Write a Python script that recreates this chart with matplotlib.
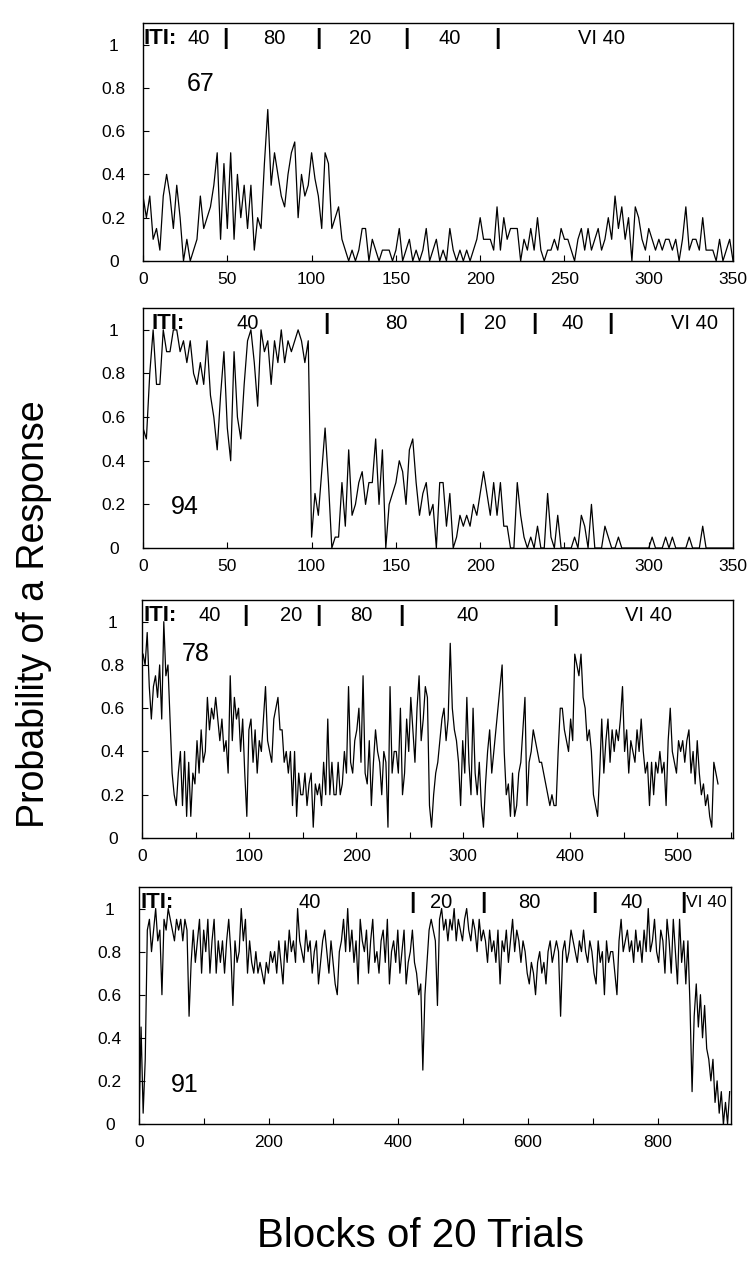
import numpy as np
import matplotlib
matplotlib.use("Agg")
import matplotlib.pyplot as plt
from matplotlib.ticker import MultipleLocator

plt.rcParams['font.family'] = ['Liberation Sans', 'DejaVu Sans']

# ---------------------------
# DATA (probability of a response per block)
# ---------------------------

# rat 67, one value every 2 blocks, blocks 0..350
p67 = [0.30, 0.20, 0.30, 0.10, 0.15, 0.05, 0.30, 0.40, 0.30, 0.15, 0.35, 0.20,
       0.00, 0.10, 0.00, 0.05, 0.10, 0.30, 0.15, 0.20, 0.25, 0.35, 0.50, 0.10,
       0.45, 0.15, 0.50, 0.10, 0.40, 0.20, 0.35, 0.15, 0.35, 0.05, 0.20, 0.15,
       0.45, 0.70, 0.35, 0.50, 0.40, 0.30, 0.25, 0.40, 0.50, 0.55, 0.20, 0.40,
       0.30, 0.35, 0.50, 0.38, 0.30, 0.15, 0.50, 0.45, 0.15, 0.20, 0.25, 0.10,
       0.05, 0.00, 0.05, 0.00, 0.05, 0.15, 0.15, 0.00, 0.10, 0.05, 0.00, 0.05,
       0.05, 0.05, 0.00, 0.05, 0.15, 0.00, 0.05, 0.10, 0.00, 0.05, 0.00, 0.05,
       0.15, 0.00, 0.05, 0.10, 0.00, 0.05, 0.00, 0.15, 0.05, 0.00, 0.05, 0.00,
       0.05, 0.00, 0.05, 0.10, 0.20, 0.10, 0.10, 0.10, 0.05, 0.25, 0.05, 0.20,
       0.10, 0.15, 0.15, 0.15, 0.00, 0.10, 0.05, 0.15, 0.05, 0.20, 0.05, 0.00,
       0.05, 0.05, 0.10, 0.05, 0.15, 0.10, 0.10, 0.05, 0.00, 0.10, 0.15, 0.05,
       0.15, 0.05, 0.10, 0.15, 0.05, 0.10, 0.20, 0.10, 0.30, 0.15, 0.25, 0.10,
       0.20, 0.00, 0.25, 0.20, 0.10, 0.05, 0.15, 0.10, 0.05, 0.10, 0.05, 0.10,
       0.10, 0.05, 0.10, 0.00, 0.10, 0.25, 0.05, 0.10, 0.10, 0.05, 0.20, 0.05,
       0.05, 0.05, 0.00, 0.10, 0.00, 0.05, 0.10, 0.00]

# rat 94, one value every 2 blocks, blocks 0..350
p94 = [0.55, 0.50, 0.80, 1.00, 0.75, 0.75, 1.00, 0.90, 0.90, 1.00, 1.00, 0.90,
       0.95, 0.85, 0.95, 0.80, 0.75, 0.85, 0.75, 0.95, 0.70, 0.60, 0.45, 0.70,
       0.90, 0.55, 0.40, 0.90, 0.60, 0.50, 0.75, 0.95, 1.00, 0.85, 0.65, 1.00,
       0.90, 0.95, 0.75, 0.95, 0.85, 1.00, 0.85, 0.95, 0.90, 0.95, 1.00, 0.95,
       0.85, 0.95, 0.05, 0.25, 0.15, 0.35, 0.55, 0.30, 0.00, 0.05, 0.05, 0.30,
       0.10, 0.45, 0.15, 0.20, 0.30, 0.35, 0.20, 0.30, 0.30, 0.50, 0.20, 0.45,
       0.00, 0.20, 0.25, 0.30, 0.40, 0.35, 0.20, 0.45, 0.50, 0.30, 0.15, 0.25,
       0.30, 0.15, 0.20, 0.00, 0.30, 0.30, 0.10, 0.25, 0.00, 0.05, 0.15, 0.10,
       0.15, 0.10, 0.20, 0.15, 0.25, 0.35, 0.25, 0.15, 0.30, 0.15, 0.30, 0.10,
       0.10, 0.00, 0.00, 0.30, 0.15, 0.05, 0.00, 0.05, 0.00, 0.10, 0.00, 0.00,
       0.25, 0.05, 0.00, 0.15, 0.00, 0.00, 0.00, 0.00, 0.05, 0.00, 0.15, 0.10,
       0.00, 0.20, 0.00, 0.00, 0.00, 0.10, 0.05, 0.00, 0.00, 0.05, 0.00, 0.00,
       0.00, 0.00, 0.00, 0.00, 0.00, 0.00, 0.00, 0.05, 0.00, 0.00, 0.00, 0.05,
       0.00, 0.05, 0.00, 0.00, 0.00, 0.00, 0.05, 0.00, 0.00, 0.00, 0.10, 0.00,
       0.00, 0.00, 0.00, 0.00, 0.00, 0.00, 0.00, 0.00]

# rat 78, roughly every 2 blocks, blocks 1..538
p78 = [0.85, 0.80, 0.95, 0.70, 0.55, 0.70, 0.75, 0.65, 0.80, 0.55, 1.00, 0.75,
       0.80, 0.55, 0.30, 0.20, 0.15, 0.30, 0.40, 0.15, 0.40, 0.10, 0.35, 0.10,
       0.30, 0.25, 0.45, 0.30, 0.50, 0.35, 0.40, 0.65, 0.50, 0.60, 0.55, 0.65,
       0.55, 0.45, 0.55, 0.40, 0.45, 0.30, 0.75, 0.45, 0.65, 0.55, 0.60, 0.40,
       0.55, 0.30, 0.10, 0.50, 0.55, 0.35, 0.50, 0.30, 0.45, 0.40, 0.55, 0.70,
       0.45, 0.40, 0.35, 0.55, 0.60, 0.65, 0.50, 0.50, 0.35, 0.40, 0.30, 0.40,
       0.15, 0.40, 0.10, 0.30, 0.20, 0.20, 0.30, 0.15, 0.25, 0.30, 0.05, 0.25,
       0.20, 0.25, 0.15, 0.35, 0.20, 0.55, 0.20, 0.35, 0.20, 0.20, 0.35, 0.20,
       0.25, 0.40, 0.30, 0.70, 0.35, 0.30, 0.45, 0.50, 0.60, 0.35, 0.75, 0.30,
       0.25, 0.45, 0.15, 0.35, 0.50, 0.40, 0.35, 0.20, 0.40, 0.35, 0.05, 0.70,
       0.30, 0.40, 0.40, 0.30, 0.60, 0.20, 0.30, 0.55, 0.40, 0.65, 0.50, 0.35,
       0.60, 0.75, 0.45, 0.55, 0.70, 0.65, 0.15, 0.05, 0.20, 0.30, 0.35, 0.45,
       0.55, 0.60, 0.45, 0.55, 0.90, 0.60, 0.50, 0.45, 0.35, 0.15, 0.45, 0.30,
       0.65, 0.35, 0.20, 0.60, 0.30, 0.20, 0.35, 0.15, 0.05, 0.25, 0.40, 0.50,
       0.30, 0.40, 0.50, 0.60, 0.70, 0.80, 0.40, 0.20, 0.25, 0.10, 0.30, 0.10,
       0.15, 0.30, 0.35, 0.50, 0.65, 0.15, 0.35, 0.40, 0.50, 0.45, 0.40, 0.35,
       0.35, 0.30, 0.25, 0.20, 0.15, 0.20, 0.15, 0.15, 0.40, 0.60, 0.60, 0.50,
       0.45, 0.40, 0.55, 0.45, 0.85, 0.80, 0.75, 0.85, 0.65, 0.60, 0.45, 0.50,
       0.40, 0.20, 0.15, 0.10, 0.30, 0.55, 0.30, 0.45, 0.55, 0.35, 0.50, 0.40,
       0.50, 0.45, 0.55, 0.70, 0.40, 0.50, 0.30, 0.45, 0.40, 0.35, 0.50, 0.40,
       0.55, 0.40, 0.30, 0.35, 0.15, 0.35, 0.20, 0.35, 0.30, 0.40, 0.30, 0.35,
       0.15, 0.45, 0.60, 0.40, 0.35, 0.30, 0.45, 0.40, 0.45, 0.35, 0.45, 0.50,
       0.30, 0.40, 0.25, 0.45, 0.30, 0.20, 0.25, 0.15, 0.20, 0.10, 0.05, 0.35,
       0.30, 0.25]

# rat 91, roughly every 3 blocks, blocks 0..911
p91 = [0.00, 0.45, 0.05, 0.30, 0.90, 0.95, 0.80, 0.90, 1.00, 0.85, 0.90, 0.60,
       0.95, 0.90, 1.00, 0.95, 0.90, 0.85, 0.95, 0.90, 0.95, 0.85, 0.95, 0.90,
       0.50, 0.75, 0.90, 0.75, 0.85, 0.95, 0.70, 0.90, 0.80, 0.95, 0.70, 0.85,
       0.95, 0.70, 0.85, 0.75, 0.85, 0.70, 0.85, 0.95, 0.80, 0.55, 0.85, 0.75,
       0.80, 1.00, 0.85, 0.95, 0.70, 0.85, 0.75, 0.70, 0.80, 0.70, 0.75, 0.70,
       0.65, 0.75, 0.70, 0.80, 0.75, 0.80, 0.70, 0.85, 0.75, 0.65, 0.85, 0.75,
       0.90, 0.80, 0.85, 0.75, 1.00, 0.85, 0.80, 0.75, 0.90, 0.80, 0.85, 0.70,
       0.80, 0.85, 0.65, 0.75, 0.85, 0.90, 0.80, 0.70, 0.85, 0.75, 0.65, 0.60,
       0.80, 0.85, 0.95, 0.80, 1.00, 0.80, 0.90, 0.75, 0.85, 0.65, 0.95, 0.85,
       0.80, 0.90, 0.70, 0.85, 0.95, 0.75, 0.80, 0.70, 0.85, 0.90, 0.75, 0.95,
       0.65, 0.80, 0.85, 0.75, 0.90, 0.70, 0.80, 0.90, 0.65, 0.75, 0.80, 0.90,
       0.75, 0.70, 0.60, 0.65, 0.25, 0.60, 0.75, 0.90, 0.95, 0.90, 0.85, 0.55,
       0.95, 1.00, 0.90, 0.95, 0.85, 0.95, 0.90, 1.00, 0.85, 0.95, 0.90, 0.85,
       0.95, 1.00, 0.90, 0.85, 0.95, 0.90, 0.80, 0.95, 0.85, 0.90, 0.85, 0.75,
       0.90, 0.80, 0.85, 0.75, 0.90, 0.65, 0.85, 0.80, 0.90, 0.75, 0.85, 0.95,
       0.80, 0.90, 0.85, 0.75, 0.85, 0.80, 0.70, 0.65, 0.75, 0.70, 0.60, 0.75,
       0.80, 0.70, 0.75, 0.65, 0.80, 0.85, 0.75, 0.80, 0.85, 0.80, 0.50, 0.80,
       0.85, 0.75, 0.80, 0.90, 0.85, 0.80, 0.75, 0.85, 0.80, 0.90, 0.80, 0.75,
       0.85, 0.80, 0.70, 0.65, 0.85, 0.75, 0.80, 0.60, 0.85, 0.75, 0.80, 0.80,
       0.70, 0.60, 0.85, 0.95, 0.80, 0.85, 0.90, 0.80, 0.85, 0.75, 0.90, 0.80,
       0.85, 0.75, 0.90, 0.80, 1.00, 0.80, 0.85, 0.95, 0.80, 0.75, 0.90, 0.85,
       0.70, 0.95, 0.85, 0.70, 0.95, 0.80, 0.65, 0.95, 0.75, 0.85, 0.65, 0.85,
       0.55, 0.15, 0.50, 0.65, 0.45, 0.60, 0.40, 0.55, 0.35, 0.30, 0.20, 0.30,
       0.10, 0.20, 0.05, 0.15, 0.00, 0.10, 0.00, 0.15]

first_block = [0, 0, 1, 0]
last_block = [350, 350, 538, 911]
x_max = [350, 350, 552, 913]
rat_ids = ["67", "94", "78", "91"]

# ITI phases: label text, label position, phase boundaries (blocks)
iti_lab_67 = ["40", "80", "20", "40", "VI 40"]
iti_x_67 = [33, 78, 129, 182, 272]
bars_67 = [49, 104, 156, 210]

iti_lab_94 = ["40", "80", "20", "40", "VI 40"]
iti_x_94 = [62, 150, 209, 255, 327]
bars_94 = [109, 189, 232, 277]

iti_lab_78 = ["40", "20", "80", "40", "VI 40"]
iti_x_78 = [63, 139, 205, 304, 473]
bars_78 = [97, 165, 242, 386]

iti_lab_91 = ["40", "20", "80", "40", "VI 40"]
iti_x_91 = [263, 466, 602, 760, 875]
bars_91 = [422, 531, 702, 839]

# ---------------------------
# PLOT
# ---------------------------

fig = plt.figure(figsize=(7.5, 12.63), dpi=100)

# [left, bottom, width, height] for each panel
boxes = [[0.1907, 0.7934, 0.7867, 0.1884],
         [0.1907, 0.5661, 0.7867, 0.1900],
         [0.1893, 0.3365, 0.7880, 0.1884],
         [0.1853, 0.1101, 0.7893, 0.1876]]

series = [p67, p94, p78, p91]
iti_labels = [iti_lab_67, iti_lab_94, iti_lab_78, iti_lab_91]
iti_pos = [iti_x_67, iti_x_94, iti_x_78, iti_x_91]
bars = [bars_67, bars_94, bars_78, bars_91]
iti_start = [0.3, 5, 1, 2]
id_pos = [(34, 0.82), (25, 0.19), (50, 0.85), (70, 0.18)]
major = [50, 50, 100, 200]
minor = [50, 50, 50, 100]

for i in range(4):
    ax = fig.add_axes(boxes[i])
    y = series[i]
    x = np.linspace(first_block[i], last_block[i], len(y))
    ax.plot(x, y, color="black", lw=0.9)

    ax.set_xlim(0, x_max[i])
    ax.set_ylim(0, 1.1)
    ax.xaxis.set_major_locator(MultipleLocator(major[i]))
    ax.xaxis.set_minor_locator(MultipleLocator(minor[i]))
    ax.set_yticks([0, 0.2, 0.4, 0.6, 0.8, 1.0])
    ax.set_yticklabels(["0", "0.2", "0.4", "0.6", "0.8", "1"], ha="center")
    ax.tick_params(axis="both", which="both", direction="in", length=4,
                   width=0.8, labelsize=12.5, top=False, right=False)
    ax.tick_params(axis="y", pad=21)
    ax.tick_params(axis="x", pad=8)
    for s in ax.spines.values():
        s.set_linewidth(1.0)

    # ITI annotation row
    ax.text(iti_start[i], 1.03, "ITI:", fontsize=16, fontweight="bold",
            ha="left", va="center")
    for lab, xp in zip(iti_labels[i], iti_pos[i]):
        fs = 12.5 if (i == 3 and lab == "VI 40") else 14.5
        ax.text(xp, 1.03, lab, fontsize=fs, ha="center", va="center")
    for b in bars[i]:
        ax.text(b, 1.03, "|", fontsize=16, fontweight="bold",
                ha="center", va="center")

    ax.text(id_pos[i][0], id_pos[i][1], rat_ids[i], fontsize=18,
            ha="center", va="center")

fig.text(0.045, 0.514, "Probability of a Response", rotation=90,
         fontsize=27, ha="center", va="center")
fig.text(0.561, 0.021, "Blocks of 20 Trials", fontsize=29,
         ha="center", va="center")

fig.savefig("out.png", dpi=100)
